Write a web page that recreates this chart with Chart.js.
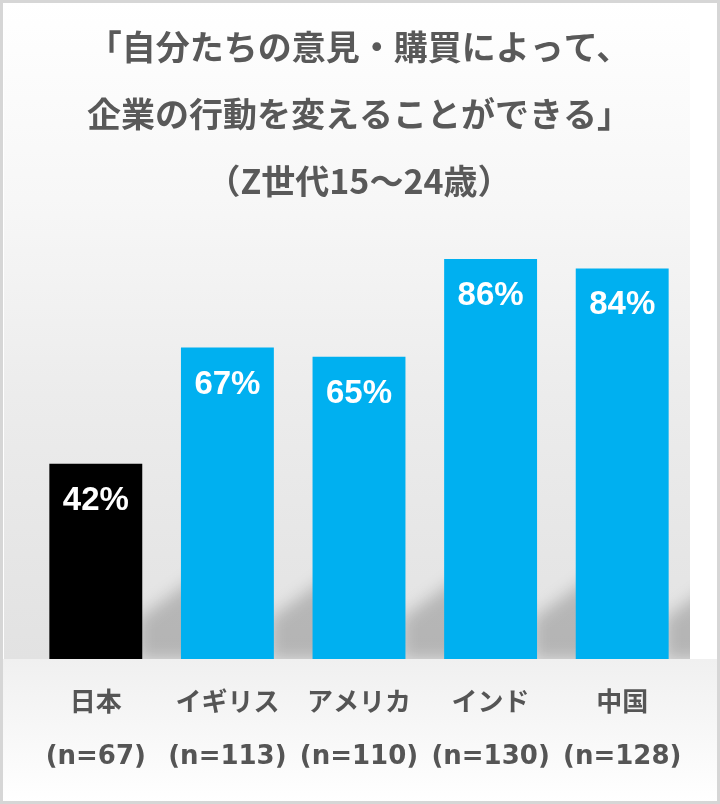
<!DOCTYPE html>
<html>
<head>
<meta charset="utf-8">
<script src="https://cdn.jsdelivr.net/npm/chart.js@4"></script>
<style>
  html, body { margin: 0; padding: 0; background: #fff; }
  #wrap { width: 720px; height: 804px; }
</style>
</head>
<body>
<div id="wrap"><canvas id="chart" width="720" height="804"></canvas></div>
<script>
"use strict"

const categories = ['日本', 'イギリス', 'アメリカ', 'インド', '中国'];
const sampleSizes = ['(n=67)', '(n=113)', '(n=110)', '(n=130)', '(n=128)'];
const agreePct = [42, 67, 65, 86, 84];
const barColors = ['#000000', '#00B0F0', '#00B0F0', '#00B0F0', '#00B0F0'];
const titleLines = [
  '「自分たちの意見・購買によって、',
  '企業の行動を変えることができる」',
  '（Z世代15〜24歳）'
];

// gray backdrop + frame
const backdrop = {
  id: 'backdrop',
  beforeDraw: (chart) => {
    const {ctx, width, height, chartArea} = chart;
    ctx.save();
    ctx.fillStyle = '#fff';
    ctx.fillRect(0, 0, width, height);
    const floor = chartArea.bottom;
    let g = ctx.createLinearGradient(0, 0, 0, floor);
    g.addColorStop(0, '#ffffff');
    g.addColorStop(0.3, '#f7f7f7');
    g.addColorStop(0.6, '#ececec');
    g.addColorStop(1, '#e2e2e2');
    ctx.fillStyle = g;
    ctx.fillRect(4, 0, width - 34, floor);
    g = ctx.createLinearGradient(0, floor, 0, height);
    g.addColorStop(0, '#f0f0f0');
    g.addColorStop(1, '#ffffff');
    ctx.fillStyle = g;
    ctx.fillRect(0, floor, width, height - floor);
    ctx.strokeStyle = '#d6d6d6';
    ctx.lineWidth = 3;
    ctx.strokeRect(1.5, 1.5, width - 3, height - 3);
    ctx.restore();
  }
};

// soft shadow to the right of each bar
const barShadow = {
  id: 'barShadow',
  beforeDatasetsDraw: (chart) => {
    const {ctx, chartArea} = chart;
    const bars = chart.getDatasetMeta(0).data;
    ctx.save();
    ctx.beginPath();
    ctx.rect(0, 0, chartArea.right + 2, chartArea.bottom);
    ctx.clip();
    ctx.filter = 'blur(8px)';
    ctx.fillStyle = 'rgba(0,0,0,0.2)';
    bars.forEach(bar => {
      const r = bar.x + bar.width / 2;
      const b = bar.base;
      ctx.beginPath();
      ctx.moveTo(r - 4, b);
      ctx.lineTo(r - 4, b - 40);
      ctx.lineTo(r + 58, b - 85);
      ctx.lineTo(r + 58, b);
      ctx.closePath();
      ctx.fill();
    });
    ctx.restore();
  }
};

// percent labels inside the bars
const valueLabels = {
  id: 'valueLabels',
  afterDatasetsDraw: (chart) => {
    const {ctx} = chart;
    const bars = chart.getDatasetMeta(0).data;
    ctx.save();
    ctx.fillStyle = '#ffffff';
    ctx.font = 'bold 33px "Liberation Sans", Arial, sans-serif';
    ctx.textAlign = 'center';
    ctx.textBaseline = 'middle';
    bars.forEach((bar, i) => {
      ctx.fillText(agreePct[i] + '%', bar.x, bar.y + 37);
    });
    ctx.restore();
  }
};

new Chart(document.getElementById('chart'), {
  type: 'bar',
  data: {
    labels: categories.map((c, i) => [c, sampleSizes[i]]),
    datasets: [{
      data: agreePct,
      backgroundColor: barColors,
      borderWidth: 0,
      categoryPercentage: 1,
      barPercentage: 0.706
    }]
  },
  options: {
    responsive: false,
    animation: false,
    layout: { padding: { left: 30, right: 32, top: 0, bottom: 1 } },
    plugins: {
      legend: { display: false },
      tooltip: { enabled: false },
      title: {
        display: true,
        text: titleLines,
        color: '#595959',
        font: { family: '"Noto Sans CJK JP", sans-serif', size: 34, weight: 'bold', lineHeight: 67 / 34 },
        padding: { top: 14, bottom: -21 }
      }
    },
    scales: {
      x: {
        grid: { display: false, drawTicks: false },
        border: { display: false },
        ticks: {
          color: '#555555',
          padding: 19,
          autoSkip: false,
          maxRotation: 0,
          font: { family: '"DejaVu Sans", "Noto Sans CJK JP", sans-serif', size: 26, weight: 'bold', lineHeight: 53 / 26 }
        }
      },
      y: {
        display: false,
        min: 0,
        max: 100
      }
    }
  },
  plugins: [backdrop, barShadow, valueLabels]
});
</script>
</body>
</html>
